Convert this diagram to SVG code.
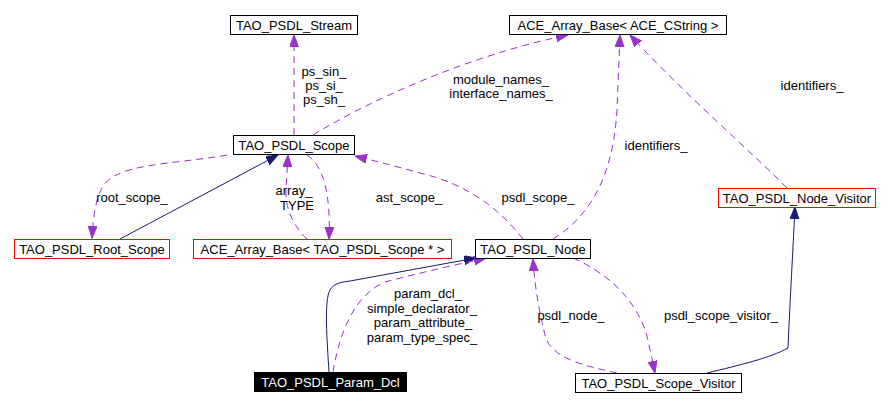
<svg xmlns="http://www.w3.org/2000/svg" width="889" height="406" viewBox="0 0 889 406">
<style>
text{font-family:"Liberation Sans",Arial,sans-serif;font-size:13px;fill:#000}
.n text{text-anchor:middle}
.box{fill:#fff;stroke:#000;stroke-width:1}
.red{fill:#fff;stroke:#ff0000;stroke-width:1}
.lbl{text-anchor:middle}
.dash{fill:none;stroke:#9a32cd;stroke-width:1;stroke-dasharray:7,5;marker-end:url(#ap)}
.solid{fill:none;stroke:#191970;stroke-width:1;marker-end:url(#an)}
</style>
<defs>
<marker id="ap" markerUnits="userSpaceOnUse" markerWidth="13" markerHeight="10" refX="12" refY="4.5" orient="auto"><path d="M0,0 L12,4.5 L0,9 z" fill="#9a32cd" stroke="#9a32cd"/></marker>
<marker id="an" markerUnits="userSpaceOnUse" markerWidth="13" markerHeight="10" refX="12" refY="4.5" orient="auto"><path d="M0,0 L12,4.5 L0,9 z" fill="#191970" stroke="#191970"/></marker>
</defs>
<rect width="889" height="406" fill="#fff"/>
<g id="edges">
<path class="dash" d="M294,135 L294,35"/>
<path class="dash" d="M313,135 C370,100 470,55 568,35"/>
<path class="dash" d="M553,239 C600,210 614,160 617,110 L620,35"/>
<path class="dash" d="M787,188 C760,160 680,90 630,35"/>
<path class="solid" d="M120,239 L278,155"/>
<path class="dash" d="M227,155 C170,165 115,163 102,188 C95,200 93,220 92,238"/>
<path class="dash" d="M307,239 C295,228 285,210 286,190 L288,155"/>
<path class="dash" d="M307,155 C322,165 331,190 329,239"/>
<path class="dash" d="M523,239 C500,210 470,185 420,173 C395,166 375,161 355,156"/>
<path class="solid" d="M329,372 C327,340 324,300 330,290 C334,283 342,282 350,281 L476,258"/>
<path class="dash" d="M333,372 C340,330 355,295 385,282 C415,274 450,266 486,258"/>
<path class="dash" d="M617,373 C580,365 550,357 545,335 C540,315 535,290 533,259"/>
<path class="dash" d="M573,258 C612,275 640,305 648,340 L655,373"/>
<path class="solid" d="M707,373 C740,365 770,358 788,348 C790,300 793,250 795,207"/>
<g class="lbl">
<text x="324" y="76">ps_sin_</text>
<text x="324" y="90">ps_si_</text>
<text x="324" y="104">ps_sh_</text>
<text x="501" y="84">module_names_</text>
<text x="501" y="98">interface_names_</text>
<text x="812" y="90">identifiers_</text>
<text x="656" y="150">identifiers_</text>
<text x="132" y="202">root_scope_</text>
<text x="294" y="195">array_</text>
<text x="297" y="210">TYPE</text>
<text x="409" y="202">ast_scope_</text>
<text x="538" y="202">psdl_scope_</text>
<text x="428" y="298">param_dcl_</text>
<text x="422" y="313">simple_declarator_</text>
<text x="423" y="327">param_attribute_</text>
<text x="422" y="342">param_type_spec_</text>
<text x="571" y="320">psdl_node_</text>
<text x="721" y="320">psdl_scope_visitor_</text>
</g>
</g>
<g id="TAO_PSDL_Stream" class="n"><rect class="box" x="230.5" y="15.5" width="127" height="19"/><text x="294" y="30">TAO_PSDL_Stream</text></g>
<g id="ACE_Array_Base_CString" class="n"><rect class="box" x="509.5" y="15.5" width="217" height="19"/><text x="618" y="30">ACE_Array_Base&lt; ACE_CString &gt;</text></g>
<g id="TAO_PSDL_Scope" class="n"><rect class="box" x="233.5" y="135.5" width="121" height="19"/><text x="294" y="150">TAO_PSDL_Scope</text></g>
<g id="TAO_PSDL_Root_Scope" class="n"><rect class="red" x="14.5" y="239.5" width="155" height="19"/><text x="92" y="254">TAO_PSDL_Root_Scope</text></g>
<g id="ACE_Array_Base_Scope" class="n"><rect class="red" x="193.5" y="239.5" width="258" height="19"/><text x="322.5" y="254">ACE_Array_Base&lt; TAO_PSDL_Scope * &gt;</text></g>
<g id="TAO_PSDL_Node" class="n"><rect class="box" x="475.5" y="239.5" width="115" height="19"/><text x="533" y="254">TAO_PSDL_Node</text></g>
<g id="TAO_PSDL_Node_Visitor" class="n"><rect class="red" x="718.5" y="188.5" width="157" height="19"/><text x="797" y="203">TAO_PSDL_Node_Visitor</text></g>
<g id="TAO_PSDL_Param_Dcl" class="n"><rect x="254" y="372" width="153" height="20" fill="#000"/><text x="330.5" y="387" style="fill:#fff">TAO_PSDL_Param_Dcl</text></g>
<g id="TAO_PSDL_Scope_Visitor" class="n"><rect class="box" x="575.5" y="373.5" width="166" height="19"/><text x="658.5" y="388">TAO_PSDL_Scope_Visitor</text></g>
</svg>
